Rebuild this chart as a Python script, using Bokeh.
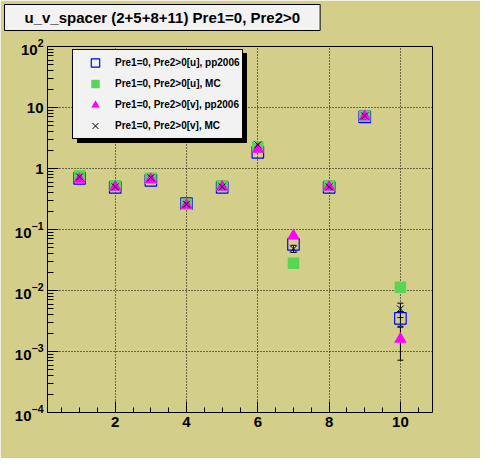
from bokeh.plotting import figure
from bokeh.models import (Range1d, FixedTicker, LogTickFormatter, Legend, LegendItem,
                          Whisker, TeeHead, ColumnDataSource, Title)
from bokeh.embed import file_html
from bokeh.resources import INLINE

# ---------------- data ----------------
title_text = "u_v_spacer (2+5+8+11) Pre1=0, Pre2>0"
x_vals = [1, 2, 3, 4, 5, 6, 7, 8, 9, 10]
u_pp2006 = [0.69, 0.49, 0.64, 0.265, 0.49, 1.84, 0.057, 0.49, 7.0, 0.0035]
u_mc = [0.75, 0.52, 0.69, 0.26, 0.52, 2.25, 0.028, 0.52, 7.2, 0.0113]
v_pp2006 = [0.67, 0.50, 0.66, 0.25, 0.50, 2.07, 0.079, 0.50, 7.1, 0.0016]
v_mc = [0.73, 0.50, 0.71, 0.26, 0.50, 2.45, 0.048, 0.50, 7.3, 0.0050]
# visible error bars: (x, low, high)
u_pp2006_err_x = [10]
u_pp2006_err_lo = [0.0026]
u_pp2006_err_hi = [0.0045]
v_pp2006_err_x = [10]
v_pp2006_err_lo = [0.00072]
v_pp2006_err_hi = [0.0025]
v_mc_err_x = [7, 10]
v_mc_err_lo = [0.042, 0.0036]
v_mc_err_hi = [0.055, 0.0062]
legend_labels = ["Pre1=0, Pre2>0[u], pp2006", "Pre1=0, Pre2>0[u], MC",
                 "Pre1=0, Pre2>0[v], pp2006", "Pre1=0, Pre2>0[v], MC"]
x_major_ticks = [2, 4, 6, 8, 10]
x_minor_ticks = [0.5, 1, 1.5, 2.5, 3, 3.5, 4.5, 5, 5.5, 6.5, 7, 7.5, 8.5, 9, 9.5, 10.5]
y_exponents = [-4, -3, -2, -1, 0, 1, 2]
y_plain_labels = {1.0: "1", 10.0: "10"}

BG = "#d3ce8a"
PANEL = "#f2f2f2"
FONT = "Liberation Sans"

p = figure(width=480, height=458, output_backend="svg", toolbar_location=None,
           y_axis_type="log", x_range=Range1d(0.1, 10.9), y_range=Range1d(1e-4, 1e2),
           min_border_left=47, min_border_right=48, min_border_top=46, min_border_bottom=46)
p.background_fill_color = BG
p.border_fill_color = BG
p.outline_line_color = "black"
p.outline_line_width = 1
p.outline_line_alpha = 1

# invisible spacer between frame and title box
p.add_layout(Title(text=" ", text_font_size="1px", standoff=13,
                   background_fill_color=None, border_line_color=None), "above")

# title box (ROOT style)
p.title.text = title_text
p.title.align = "left"
p.title.offset = -43
p.title.standoff = 0
p.title.text_font = FONT
p.title.text_font_style = "bold"
p.title.text_font_size = "15px"
p.title.text_color = "black"
p.title.background_fill_color = PANEL
p.title.border_line_color = "black"
p.title.border_line_width = 1
p.title.padding = dict(left=20, right=20, top=4, bottom=5)

# axes
p.xaxis.ticker = FixedTicker(ticks=x_major_ticks, minor_ticks=x_minor_ticks)
y_major = [10.0 ** e for e in y_exponents]
y_minor = [k * 10.0 ** e for e in y_exponents[:-1] for k in range(2, 10)]
p.yaxis.ticker = FixedTicker(ticks=y_major, minor_ticks=y_minor)
p.yaxis.formatter = LogTickFormatter()
p.yaxis.major_label_overrides = y_plain_labels
for ax in (p.xaxis[0], p.yaxis[0]):
    ax.axis_line_color = "black"
    ax.major_tick_in = 11
    ax.major_tick_out = 0
    ax.minor_tick_out = 0
    ax.major_tick_line_color = "black"
    ax.minor_tick_line_color = "black"
    ax.major_label_text_font = FONT
    ax.major_label_text_font_style = "bold"
    ax.major_label_text_color = "black"
    ax.major_label_text_font_size = "15px"
p.xaxis.minor_tick_in = 5
p.yaxis.minor_tick_in = 6
p.xaxis.major_label_standoff = 4
p.yaxis.major_label_standoff = 4

for g in (p.xgrid[0], p.ygrid[0]):
    g.grid_line_color = "black"
    g.grid_line_dash = "1 2"
    g.grid_line_width = 1
p.xgrid.ticker = FixedTicker(ticks=x_major_ticks)
p.ygrid.ticker = FixedTicker(ticks=y_major)

# error bars
def add_err(xs, lo, hi):
    src = ColumnDataSource(dict(x=xs, lo=lo, hi=hi))
    w = Whisker(base="x", lower="lo", upper="hi", source=src, dimension="height",
                line_color="black", line_width=1,
                upper_head=TeeHead(size=6, line_color="black", line_width=1),
                lower_head=TeeHead(size=6, line_color="black", line_width=1))
    p.add_layout(w)

add_err(u_pp2006_err_x, u_pp2006_err_lo, u_pp2006_err_hi)
add_err(v_pp2006_err_x, v_pp2006_err_lo, v_pp2006_err_hi)
add_err(v_mc_err_x, v_mc_err_lo, v_mc_err_hi)

src = ColumnDataSource(dict(x=x_vals, upp=u_pp2006, umc=u_mc, vpp=v_pp2006, vmc=v_mc))
r1 = p.scatter("x", "upp", source=src, marker="square", size=11.5, fill_alpha=0,
               line_color="#0000ff", line_width=1.2)
r2 = p.scatter("x", "umc", source=src, marker="square", size=11.5, fill_color="#59d454",
               line_color="#59d454", line_width=0)
r3 = p.scatter("x", "vpp", source=src, marker="triangle", size=12.5, fill_color="#ff00ff",
               line_color="#ff00ff", line_width=0)
r4 = p.scatter("x", "vmc", source=src, marker="x", size=9.5, line_color="black", line_width=1)

# legend with shadow
def make_legend(loc, shadow):
    labels = [" "] * 4 if shadow else legend_labels
    items = [LegendItem(label=l, renderers=[r]) for l, r in zip(labels, [r1, r2, r3, r4])]
    lg = Legend(items=items, location=loc, orientation="vertical",
                glyph_height=21, glyph_width=40, label_height=21, label_width=124,
                label_standoff=0, spacing=0, padding=2, margin=0,
                label_text_font=FONT, label_text_font_style="bold", label_text_font_size="10px",
                label_text_color="black",
                background_fill_color="black" if shadow else PANEL, background_fill_alpha=1,
                border_line_color="black", border_line_width=1, border_line_alpha=1)
    p.add_layout(lg)

make_legend((30, 269), True)
make_legend((25, 273), False)

open("out.html", "w").write(file_html(p, INLINE))
